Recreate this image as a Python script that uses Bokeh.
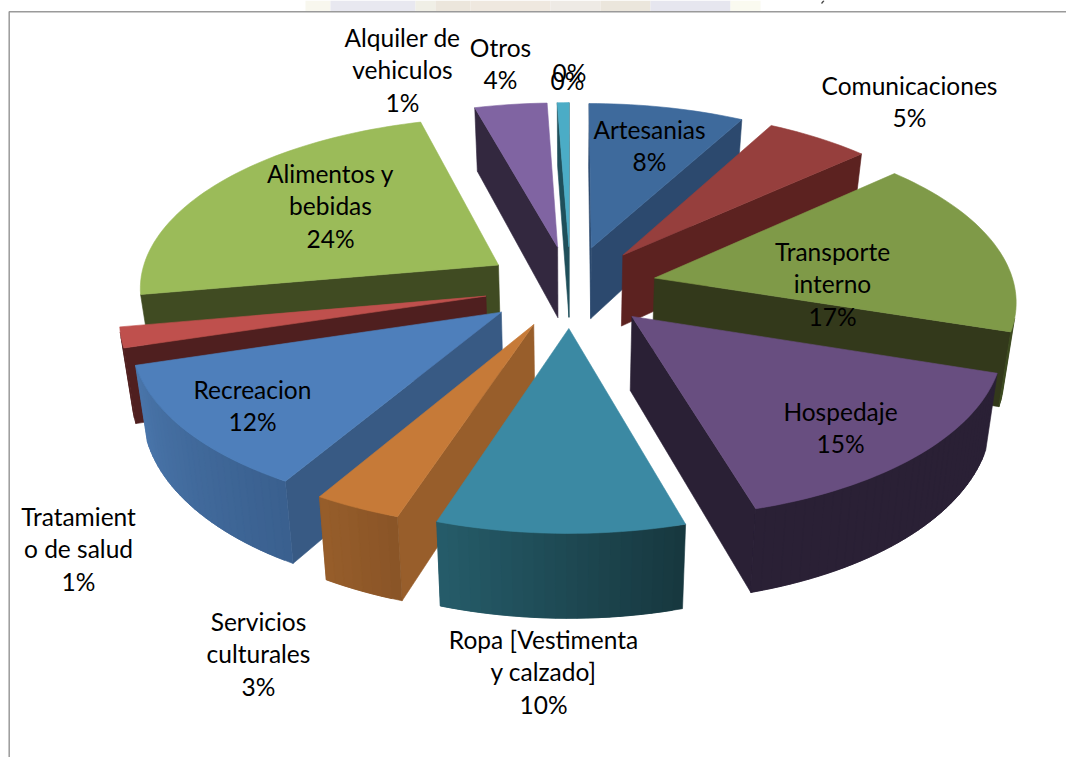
import math
from bokeh.plotting import figure
from bokeh.models import Range1d
from bokeh.core.properties import value
from bokeh.embed import file_html
from bokeh.resources import INLINE

# --- chart data ---
categories = ["Artesanias", "Comunicaciones", "Transporte interno", "Hospedaje",
              "Ropa [Vestimenta y calzado]", "Servicios culturales", "Recreacion",
              "Tratamiento de salud", "Alimentos y bebidas", "Otros",
              "Alquiler de vehiculos", "-", "-"]
values = [7.95, 5.35, 16.7, 15.5, 9.6, 3.4, 11.8, 1.9, 23.5, 3.7, 0.6, 0.0, 0.0]

# --- colours per slice: top, cut wall, rim start, rim end ---
top_colors  = ["#3e6a9c", "#963f3d", "#7f9a48", "#684e80", "#3b89a3", "#c67a38",
               "#4e7fbb", "#bf504d", "#9bbb59", "#8064a2", "#4bacc6", "#4bacc6", "#4bacc6"]
wall_colors = ["#2c496e", "#5c2220", "#33391b", "#2a2035", "#1f4f5a", "#985e2b",
               "#385a84", "#4f1f1f", "#404b22", "#33283f", "#1f4f5a", "#1f4f5a", "#1f4f5a"]
rim_a = ["#2c496e", "#5c2220", "#3d4a20", "#2a2035", "#17383f", "#8a5527",
         "#3a608f", "#4f1f1f", "#404b22", "#33283f", "#1f4f5a", "#1f4f5a", "#1f4f5a"]
rim_b = ["#2c496e", "#5c2220", "#3d4a20", "#2a2035", "#265d6b", "#985e2b",
         "#4a76ab", "#4f1f1f", "#404b22", "#33283f", "#1f4f5a", "#1f4f5a", "#1f4f5a"]

# --- label lines and anchors (page pixels) ---
label_lines = [
    (["Artesanias", "8%"], 649, 131),
    (["Comunicaciones", "5%"], 909, 87),
    (["Transporte", "interno", "17%"], 832, 253),
    (["Hospedaje", "15%"], 840, 413),
    (["Ropa [Vestimenta", "y calzado]", "10%"], 543, 641),
    (["Servicios", "culturales", "3%"], 258, 623),
    (["Recreacion", "12%"], 252, 391),
    (["Tratamient", "o de salud", "1%"], 78, 518),
    (["Alimentos y", "bebidas", "24%"], 330, 175),
    (["Otros", "4%"], 500, 49),
    (["Alquiler de", "vehiculos", "1%"], 402, 39),
    (["0%"], 569, 74),
    (["0%"], 567, 82),
]
LINE_H = 32.3
FONT = "Lato"
FONT_SIZE = "24.5px"

# faint watermark bleeding in above the frame
band_left  = [305, 330, 415, 435, 470, 550, 600, 650, 730]
band_right = [330, 415, 435, 470, 550, 600, 650, 730, 760]
band_cols  = ["#f8f7ee", "#e8e8f0", "#f0efe6", "#ece6dc", "#efe8df",
              "#eeeae5", "#ebe6dc", "#e6e6ef", "#fafaf0"]

# --- camera ---
cx, cy = 570.0, 286.0
sx, sy = 360.0, 170.0
k = 0.118
explode = 0.24
depth = 72.5
zs = 0.973


def proj(u, v, bottom=False):
    w = 1 + k * v
    X = cx + sx * u / w
    Y = cy - sy * v / w
    if bottom:
        X = cx + (X - cx) * zs
        Y += depth / w
    return X, Y


def shoelace(pts):
    return sum(pts[i][0] * pts[(i + 1) % len(pts)][1] - pts[(i + 1) % len(pts)][0] * pts[i][1]
               for i in range(len(pts)))


def mix(a, b, t):
    ca = [int(a[i:i + 2], 16) for i in (1, 3, 5)]
    cb = [int(b[i:i + 2], 16) for i in (1, 3, 5)]
    return "#%02x%02x%02x" % tuple(round(x + (y - x) * t) for x, y in zip(ca, cb))


total = sum(values)
slices = []
acc = 0.0
for i, val in enumerate(values):
    if val > 0:
        slices.append((i, acc / total * 2 * math.pi, (acc + val) / total * 2 * math.pi))
    acc += val
slices.sort(key=lambda s: -math.cos((s[1] + s[2]) / 2))

xs, ys, cols = [], [], []


def add(pts, c):
    xs.append([p[0] for p in pts])
    ys.append([p[1] for p in pts])
    cols.append(c)


for i, t0, t1 in slices:
    tm = (t0 + t1) / 2
    ou, ov = explode * math.sin(tm), explode * math.cos(tm)
    n = max(2, int((t1 - t0) / math.radians(1.5)))
    th = [t0 + (t1 - t0) * j / n for j in range(n + 1)]
    rim = [(ou + math.sin(a), ov + math.cos(a)) for a in th]
    # cut walls
    qs = [proj(ou, ov), proj(*rim[0]), proj(*rim[0], True), proj(ou, ov, True)]
    if shoelace(qs) < 0:
        add(qs, wall_colors[i])
    qe = [proj(ou, ov), proj(*rim[-1]), proj(*rim[-1], True), proj(ou, ov, True)]
    if shoelace(qe) > 0:
        add(qe, wall_colors[i])
    # rim: each strip overlaps the next one, so no seams show
    for j in range(n):
        e = min(j + 2, n)
        q = [proj(*rim[j]), proj(*rim[j + 1]), proj(*rim[j + 1], True), proj(*rim[j], True)]
        if shoelace(q) < 0:
            q2 = [proj(*rim[j]), proj(*rim[e]), proj(*rim[e], True), proj(*rim[j], True)]
            add(q2 if shoelace(q2) < 0 else q, mix(rim_a[i], rim_b[i], j / n))
    # top face
    add([proj(ou, ov)] + [proj(*r) for r in rim], top_colors[i])

p = figure(width=1066, height=757, output_backend="svg", toolbar_location=None,
           x_range=Range1d(0, 1066), y_range=Range1d(757, 0), min_border=0,
           outline_line_color=None, background_fill_color="white")
p.axis.visible = False
p.grid.visible = False

p.quad(left=band_left, right=band_right, top=[0] * len(band_left), bottom=[11] * len(band_left),
       fill_color=band_cols, line_color=None)
p.line([8.7, 8.7, 1066], [757, 11.3, 11.3], line_color="#9a9a9a", line_width=1.5)
# the tail of a cut-off mark from the page above the chart
p.line([823.5, 821], [0, 3], line_color="#444444", line_width=1.2)

p.patches(xs, ys, fill_color=cols, line_color=cols, line_width=0.6)

tx, ty, tt = [], [], []
for lines, x, y in label_lines:
    for n, line in enumerate(lines):
        tx.append(x)
        ty.append(y + n * LINE_H - 2)
        tt.append(line)
p.text(tx, ty, text=tt, text_font=value(FONT), text_font_size=value(FONT_SIZE),
       text_color="#000000", text_align="center", text_baseline="middle")

open("out.html", "w").write(file_html(p, INLINE))
